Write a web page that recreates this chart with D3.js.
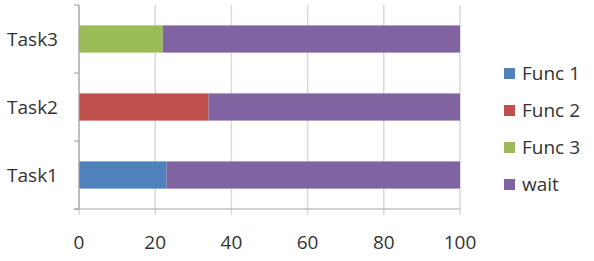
<!DOCTYPE html>
<html><head><meta charset="utf-8">
<script src="https://cdn.jsdelivr.net/npm/d3@7"></script>
<style>body{margin:0;background:#fff}svg{display:block}</style>
</head><body>
<script>
const categories = ["Task1", "Task2", "Task3"];
const seriesNames = ["Func 1", "Func 2", "Func 3", "wait"];
const func1 = [23, 0, 0];
const func2 = [0, 34, 0];
const func3 = [0, 0, 22];
const wait = [77, 66, 78];
const xTicks = [0, 20, 40, 60, 80, 100];
const colors = ["#4F81BD", "#C0504D", "#9BBB59", "#8064A2"];

const W = 594, H = 261;
const m = {left: 79, right: 134, top: 5, bottom: 52};
const svg = d3.select("body").append("svg").attr("width", W).attr("height", H);
const x = d3.scaleLinear().domain([0, 100]).range([m.left, 460]);
const y = d3.scaleBand().domain(categories.slice().reverse()).range([m.top, H - m.bottom]).paddingInner(0.6).paddingOuter(0.3);
const font = "'Open Sans', 'Noto Sans', sans-serif";
const fs = 19;

// gridlines
svg.append("g").selectAll("line").data(xTicks).join("line")
  .attr("x1", d => x(d)).attr("x2", d => x(d))
  .attr("y1", m.top).attr("y2", H - m.bottom + 6)
  .attr("stroke", "#d9d9d9").attr("stroke-width", 1.5);

const rows = categories.map((c, i) => ({cat: c, vals: [func1[i], func2[i], func3[i], wait[i]]}));
const stack = d3.stack().keys([0,1,2,3]).value((d, k) => d.vals[k]);
const stacked = stack(rows);
svg.append("g").selectAll("g").data(stacked).join("g")
  .attr("fill", (d, i) => colors[i])
  .selectAll("rect").data(d => d).join("rect")
  .attr("x", d => x(d[0])).attr("width", d => x(d[1]) - x(d[0]))
  .attr("y", d => y(d.data.cat)).attr("height", y.bandwidth());

// left axis
const ax = svg.append("g").attr("stroke", "#a6a6a6").attr("stroke-width", 1.2);
ax.append("line").attr("x1", m.left).attr("x2", m.left).attr("y1", m.top).attr("y2", H - m.bottom);
const bounds = [m.top, m.top + (H - m.top - m.bottom) / 3, m.top + 2 * (H - m.top - m.bottom) / 3, H - m.bottom];
ax.selectAll(".yt").data(bounds).join("line").attr("class", "yt")
  .attr("x1", m.left - 5).attr("x2", m.left).attr("y1", d => d).attr("y2", d => d);
ax.append("line").attr("x1", m.left - 5).attr("x2", 460).attr("y1", H - m.bottom).attr("y2", H - m.bottom);

svg.append("g").selectAll("text").data(categories).join("text")
  .attr("x", 58).attr("y", d => y(d) + y.bandwidth() / 2)
  .attr("text-anchor", "end").attr("dominant-baseline", "central")
  .attr("font-family", font).attr("font-size", fs).attr("fill", "#333")
  .text(d => d);

svg.append("g").selectAll("text").data(xTicks).join("text")
  .attr("x", d => x(d)).attr("y", 242)
  .attr("text-anchor", "middle").attr("dominant-baseline", "central")
  .attr("font-family", font).attr("font-size", fs).attr("fill", "#333")
  .text(d => d);

// legend
const lg = svg.append("g").selectAll("g").data(seriesNames).join("g")
  .attr("transform", (d, i) => `translate(504, ${73 + i * 37})`);
lg.append("rect").attr("x", 0).attr("y", -5).attr("width", 11).attr("height", 11).attr("fill", (d, i) => colors[i]);
lg.append("text").attr("x", 18).attr("y", 0).attr("dominant-baseline", "central")
  .attr("font-family", font).attr("font-size", fs).attr("fill", "#333").text(d => d);
</script>
</body></html>
